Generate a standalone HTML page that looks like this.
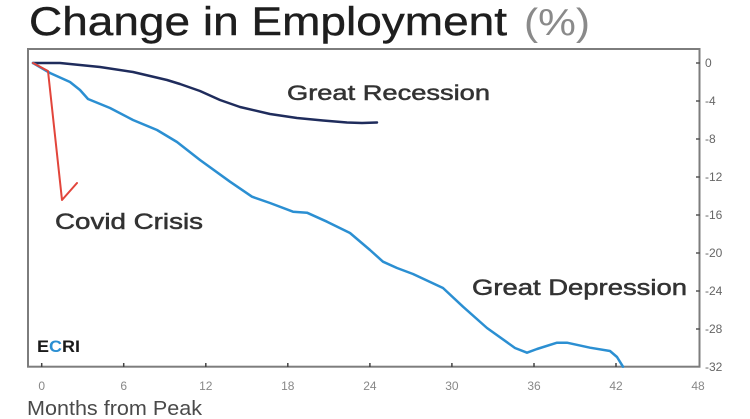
<!DOCTYPE html>
<html>
<head>
<meta charset="utf-8">
<style>
  html, body { margin: 0; padding: 0; background: #ffffff; }
  body { width: 750px; height: 419px; overflow: hidden; }
  svg { display: block; }
  text { font-family: "Liberation Sans", "DejaVu Sans", sans-serif; }
</style>
</head>
<body>
<svg width="750" height="419" viewBox="0 0 750 419" xmlns="http://www.w3.org/2000/svg">
  <rect x="0" y="0" width="750" height="419" fill="#ffffff"/>

  <!-- Title -->
  <text x="29" y="35" font-size="40" fill="#1e1e1e" stroke="#1e1e1e" stroke-width="0.4" textLength="478" lengthAdjust="spacingAndGlyphs">Change in Employment</text>
  <text x="524" y="35" font-size="38" fill="#8a8a8a" textLength="66" lengthAdjust="spacingAndGlyphs">(%)</text>

  <!-- Plot frame -->
  <rect x="28" y="49" width="671.5" height="317.7" fill="none" stroke="#7d7d7d" stroke-width="2"/>

  <!-- Right axis ticks & labels -->
  <g stroke="#555" stroke-width="1.5">
    <line x1="696" y1="63" x2="700" y2="63"/>
    <line x1="696" y1="101" x2="700" y2="101"/>
    <line x1="696" y1="139" x2="700" y2="139"/>
    <line x1="696" y1="177" x2="700" y2="177"/>
    <line x1="696" y1="215" x2="700" y2="215"/>
    <line x1="696" y1="253" x2="700" y2="253"/>
    <line x1="696" y1="291" x2="700" y2="291"/>
    <line x1="696" y1="329" x2="700" y2="329"/>
  </g>
  <g font-size="12" fill="#666">
    <text x="705" y="67">0</text>
    <text x="705" y="105">-4</text>
    <text x="705" y="143">-8</text>
    <text x="705" y="181">-12</text>
    <text x="705" y="219">-16</text>
    <text x="705" y="257">-20</text>
    <text x="705" y="295">-24</text>
    <text x="705" y="333">-28</text>
    <text x="705" y="371">-32</text>
  </g>

  <!-- Bottom axis ticks & labels -->
  <g stroke="#444" stroke-width="1.5">
    <line x1="41.7" y1="363" x2="41.7" y2="367"/>
    <line x1="123.7" y1="363" x2="123.7" y2="367"/>
    <line x1="205.8" y1="363" x2="205.8" y2="367"/>
    <line x1="287.8" y1="363" x2="287.8" y2="367"/>
    <line x1="369.9" y1="363" x2="369.9" y2="367"/>
    <line x1="451.9" y1="363" x2="451.9" y2="367"/>
    <line x1="534" y1="363" x2="534" y2="367"/>
    <line x1="616" y1="363" x2="616" y2="367"/>
  </g>
  <g font-size="12" fill="#888" text-anchor="middle">
    <text x="41.7" y="390">0</text>
    <text x="123.7" y="390">6</text>
    <text x="205.8" y="390">12</text>
    <text x="287.8" y="390">18</text>
    <text x="369.9" y="390">24</text>
    <text x="451.9" y="390">30</text>
    <text x="534" y="390">36</text>
    <text x="616" y="390">42</text>
    <text x="698" y="390">48</text>
  </g>
  <text x="27" y="415" font-size="20" fill="#4a4a4a" textLength="175" lengthAdjust="spacingAndGlyphs">Months from Peak</text>

  <!-- Great Recession (navy) -->
  <polyline fill="none" stroke="#1f2c5c" stroke-width="2.5" stroke-linejoin="round" stroke-linecap="round"
    points="33,63 60,63 100,67 133,72 167,80 180,84 200,91 220,100 240,107 270,114 297,118 323,120.5 347,122.5 362,123 377,122.5"/>

  <!-- Great Depression (light blue) -->
  <polyline fill="none" stroke="#2b8fd2" stroke-width="2.5" stroke-linejoin="round" stroke-linecap="round"
    points="33,63 50,73 70,82 80,90 88,99 110,108 133,120 157,130 177,142 200,160 230,181.7 252,196.7 270,203 293,211.7 307,212.7 327,221.7 350,233 370,250 383,261.7 397,268 413,274 443,288 463,306.7 487,328 515,348 527,352.7 537,349 557,342.7 567,342.7 590,347.7 610,351 617,357 623,366.7"/>

  <!-- Covid Crisis (red) -->
  <polyline fill="none" stroke="#e2453b" stroke-width="2" stroke-linejoin="round" stroke-linecap="round"
    points="33,63 48,71 62,200 77,183"/>

  <!-- Labels -->
  <text x="287" y="100" font-size="21" fill="#333" stroke="#333" stroke-width="0.5" textLength="203" lengthAdjust="spacingAndGlyphs">Great Recession</text>
  <text x="55" y="229" font-size="22" fill="#333" stroke="#333" stroke-width="0.5" textLength="148" lengthAdjust="spacingAndGlyphs">Covid Crisis</text>
  <text x="472" y="295" font-size="22" fill="#333" stroke="#333" stroke-width="0.5" textLength="215" lengthAdjust="spacingAndGlyphs">Great Depression</text>

  <!-- ECRI logo -->
  <text x="37" y="352" font-size="17" font-weight="bold" fill="#1a1a1a" textLength="43" lengthAdjust="spacingAndGlyphs">E<tspan fill="#2b8fd2">C</tspan>RI</text>
</svg>
</body>
</html>
